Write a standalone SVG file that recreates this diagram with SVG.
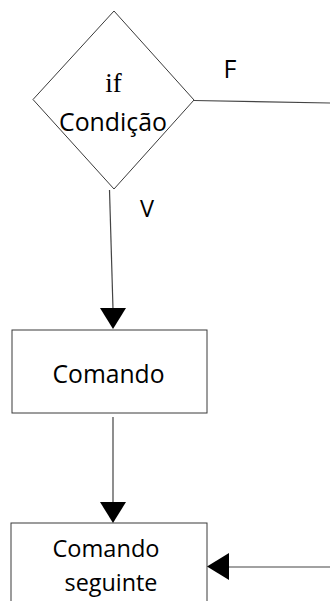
<svg xmlns="http://www.w3.org/2000/svg" width="330" height="601" viewBox="0 0 330 601">
<style>
.shape{fill:#ffffff;stroke:#3a3a3a;stroke-width:1}
.line{fill:none;stroke:#444444;stroke-width:1.2}
.head{fill:#000000;stroke:none}
.sans{font-family:"Open Sans","Noto Sans","Liberation Sans",sans-serif;fill:#000000}
.serif{font-family:"Liberation Serif","DejaVu Serif",serif;fill:#000000}
</style>
<rect x="0" y="0" width="330" height="601" fill="#ffffff"/>
<g id="decision">
<polygon class="shape" points="114,11 33,99.5 114,189 194,100"/>
<text class="serif" x="113.4" y="92" font-size="27" text-anchor="middle">if</text>
<text class="sans" x="113" y="131" font-size="25.5" text-anchor="middle" textLength="108" lengthAdjust="spacingAndGlyphs">Condição</text>
</g>
<g id="comando">
<rect class="shape" x="12" y="330" width="195" height="83"/>
<text class="sans" x="108.5" y="382.7" font-size="25.5" text-anchor="middle" textLength="112" lengthAdjust="spacingAndGlyphs">Comando</text>
</g>
<g id="comando-seguinte">
<rect class="shape" x="11" y="523" width="196" height="90"/>
<text class="sans" x="106" y="556.5" font-size="24" text-anchor="middle" textLength="107" lengthAdjust="spacingAndGlyphs">Comando</text>
<text class="sans" x="111" y="591" font-size="24" text-anchor="middle" textLength="93" lengthAdjust="spacingAndGlyphs">seguinte</text>
</g>
<g id="connectors">
<line class="line" x1="194" y1="100.5" x2="330" y2="103"/>
<text class="sans" x="223.5" y="78" font-size="25">F</text>
<line class="line" x1="109.5" y1="190" x2="113" y2="309"/>
<polygon class="head" points="100,308 126,308 113,329"/>
<text class="sans" x="140" y="216.7" font-size="23.5">V</text>
<line class="line" x1="113" y1="417" x2="113" y2="503"/>
<polygon class="head" points="100,502 126,502 113,523"/>
<line class="line" x1="330" y1="567" x2="228" y2="567"/>
<polygon class="head" points="229,553 229,580 207,566.5"/>
</g>
</svg>
